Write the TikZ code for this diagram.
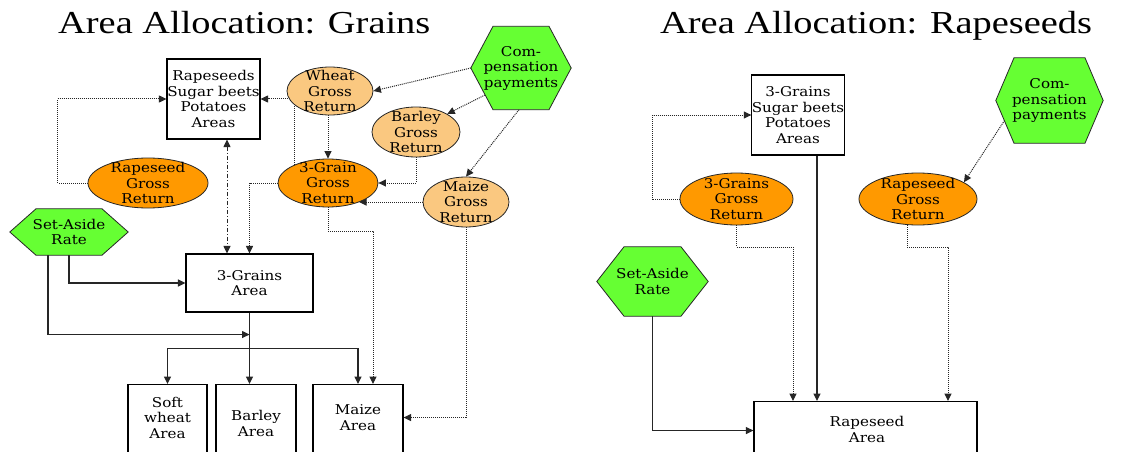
\documentclass[tikz,border=0pt]{standalone}
\usepackage{fontspec}
\usetikzlibrary{arrows.meta,shapes.geometric,backgrounds,calc}
\newfontfamily\labfont[FakeStretch=1.12]{DejaVu Serif}
\newfontfamily\titfont[FakeStretch=1.2]{Liberation Serif}
\definecolor{hexgreen}{RGB}{102,255,51}
\definecolor{darkor}{RGB}{255,153,0}
\definecolor{lightor}{RGB}{250,200,128}
\tikzset{
  lbl/.style={font=\labfont\fontsize{13.5}{15.5}\selectfont, align=center, inner sep=0pt},
  ttl/.style={anchor=base west, inner sep=0pt, font=\titfont\fontsize{32}{32}\selectfont},
  box/.style={rectangle, draw=black, line width=1.1pt, fill=white, inner sep=0pt},
  grdark/.style={ellipse, draw=black!85, line width=0.8pt, fill=darkor, inner sep=0pt},
  grlight/.style={ellipse, draw=black!85, line width=0.8pt, fill=lightor, inner sep=0pt},
  tipst/.style={-{Triangle[length=7.5pt,width=7pt]}},
  dotline/.style={draw=black!85, line width=1pt, dash pattern=on 1pt off 1pt, tipst},
  solidline/.style={draw=black!85, line width=1.2pt, tipst},
  dashdot/.style={draw=black!85, line width=1pt, dash pattern=on 4pt off 2pt on 1pt off 2pt,
    {Triangle[length=7.5pt,width=7pt]}-{Triangle[length=7.5pt,width=7pt]}},
  hexfill/.style={draw=black!85, line width=0.8pt, fill=hexgreen},
}
\begin{document}
\begin{tikzpicture}[x=1pt,y=-1pt]
\useasboundingbox (0,0) rectangle (1136,452);
% titles
\node[ttl] (t1) at (58,34) {Area Allocation: Grains};
\node[ttl] (t2) at (660,34) {Area Allocation: Rapeseeds};
% ---------- left diagram ----------
\node[box, lbl, minimum width=93pt, minimum height=80pt] (rb) at (213.5,99) {Rapeseeds\\Sugar beets\\Potatoes\\Areas};
\node[box, lbl, minimum width=127pt, minimum height=58pt] (ga) at (249.5,283) {3-Grains\\Area};
\node[box, minimum width=79pt, minimum height=90pt, anchor=north] (swa) at (167.5,384) {};
\node[box, minimum width=80pt, minimum height=90pt, anchor=north] (baa) at (256,384) {};
\node[box, minimum width=90pt, minimum height=90pt, anchor=north] (maa) at (358,384) {};
\node[lbl] (swat) at (167.5,417.5) {Soft\\wheat\\Area};
\node[lbl] (baat) at (256,423.5) {Barley\\Area};
\node[lbl] (maat) at (358,417.5) {Maize\\Area};
\node[grlight, minimum width=86pt, minimum height=48pt] (wgr) at (330,91) {};
\node[grlight, minimum width=88pt, minimum height=50pt] (bgr) at (416,132) {};
\node[grdark, minimum width=100pt, minimum height=48pt] (g3) at (328,183) {};
\node[grlight, minimum width=86pt, minimum height=50pt] (mgr) at (466,202) {};
\node[grdark, minimum width=120pt, minimum height=50pt] (rgrL) at (148,183) {};
\node[lbl] (wgrt) at (330,91) {Wheat\\Gross\\Return};
\node[lbl] (bgrt) at (416,132) {Barley\\Gross\\Return};
\node[lbl] (g3t) at (328,183) {3-Grain\\Gross\\Return};
\node[lbl] (mgrt) at (466,202) {Maize\\Gross\\Return};
\node[lbl] (rgrLt) at (148,183) {Rapeseed\\Gross\\Return};
\node[lbl, minimum width=100pt, minimum height=83pt] (cpL) at (521,68) {Com-\\pensation\\payments};
\node[lbl, minimum width=118pt, minimum height=46pt] (saL) at (69,232) {Set-Aside\\Rate};
% ---------- right diagram ----------
\node[box, lbl, minimum width=88pt, minimum height=80pt] (rb2) at (798,115) {3-Grains\\Sugar beets\\Potatoes\\Areas};
\node[lbl, minimum width=107pt, minimum height=85pt] (cpR) at (1049.5,100.5) {Com-\\pensation\\payments};
\node[grdark, minimum width=113pt, minimum height=52pt] (g3R) at (736.5,199) {};
\node[lbl] (g3Rt) at (736.5,199) {3-Grains\\Gross\\Return};
\node[grdark, minimum width=118pt, minimum height=52pt] (rgrR) at (918,199) {};
\node[lbl] (rgrRt) at (918,199) {Rapeseed\\Gross\\Return};
\node[lbl, minimum width=111pt, minimum height=69pt] (saR) at (652.5,281.5) {Set-Aside\\Rate};
\node[box, minimum width=223pt, minimum height=90pt, anchor=north] (ra) at (865.5,401) {};
\node[lbl] (rat) at (867,429.5) {Rapeseed\\Area};
% ---------- connectors and hexagons ----------
\begin{scope}[on background layer]
\fill[white] (0,0) rectangle (1136,452);
% left
\draw[dotline] ([xshift=-34pt]g3.center) |- (rb.east);
\draw[dotline] (rgrL.west) -- ++(-30,0) |- (rb.west);
\draw[dashdot] ([xshift=13.5pt]rb.south) -- ([xshift=-22.5pt]ga.north);
\draw[dotline] (g3.west) -| (ga.north);
\draw[dotline] ([xshift=-2pt]wgr.south) -- (g3.north);
\draw[dotline] (bgr.south) |- (g3.east);
\draw[dotline] (mgr.west) -- ([xshift=31pt,yshift=-19pt]g3.center);
\draw[dotline] (cpL.west) -- (wgr.east);
\draw[dotline] ([xshift=-36pt,yshift=-27pt]cpL.center) -- (bgr.30);
\draw[dotline] ([xshift=-2pt]cpL.south) -- (mgr.north);
\draw[dotline] (g3.south) -- ++(0,24) -| ([xshift=15pt]maa.north);
\draw[dotline] (mgr.south) |- ([yshift=12pt]maa.east);
\draw[solidline] (saL.south) |- (ga.west);
\coordinate (jn) at ([yshift=-22pt]ga.south);
\draw[solidline] ([xshift=-21pt]saL.south) |- (jn);
\draw[solidline] (ga.south) -- (ga.south |- baa.north);
\coordinate (sp) at ([yshift=-36pt]ga.south);
\draw[solidline] (sp) -| (swa.north);
\draw[solidline] (sp) -| (maa.north);
% right
\draw[dotline] (g3R.west) -- ++(-27,0) |- (rb2.west);
\draw[solidline] ([xshift=19pt]rb2.south) -- ([xshift=-48.5pt]ra.north);
\draw[dotline] (g3R.south) -- ++(0,22) -| ([xshift=-72.5pt]ra.north);
\draw[dotline] ([xshift=-11pt]rgrR.south) -- ++(0,22) -| ([xshift=82.5pt]ra.north);
\draw[dotline] ([xshift=-45pt,yshift=-20pt]cpR.center) -- (rgrR.20);
\draw[solidline] (saR.south) |- ([yshift=16pt]ra.west);
% hexagons
\foreach \n/\hw in {cpL/28,saL/33,cpR/35.5,saR/28.5}{
  \draw[hexfill] (\n.west) -- ([xshift=-\hw]\n.north) -- ([xshift=\hw]\n.north)
    -- (\n.east) -- ([xshift=\hw]\n.south) -- ([xshift=-\hw]\n.south) -- cycle;
}
\end{scope}
\end{tikzpicture}
\end{document}
